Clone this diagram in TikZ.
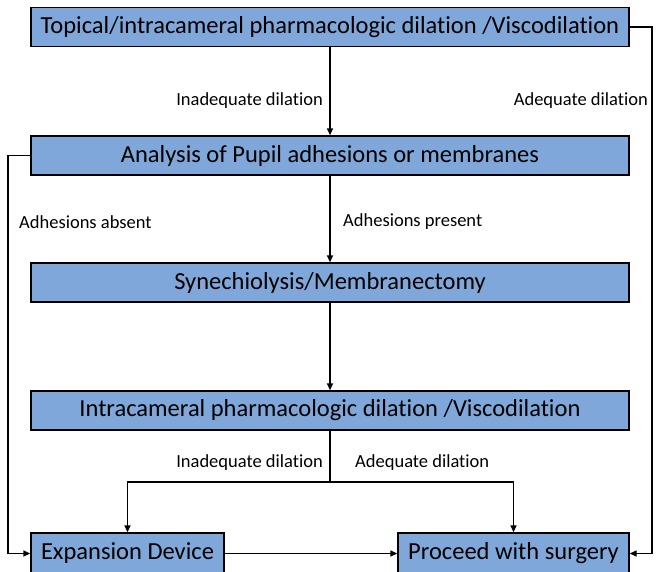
\documentclass[tikz,border=0pt]{standalone}
\usepackage{fontspec}
\setmainfont{Carlito}[Ligatures=NoCommon]
\usetikzlibrary{arrows.meta}
\definecolor{boxblue}{RGB}{128, 167, 217}
\tikzstyle{stepbox} = [
  draw=black,
  line width=1.4pt,
  fill=boxblue,
  inner sep=0pt,
  font=\fontsize{24.5}{28}\selectfont,
]
\tikzstyle{flow} = [
  line width=1.4pt,
  -{Triangle[length=7pt,width=6pt]},
]
\tikzstyle{lbl} = [
  font=\fontsize{18.5}{22}\selectfont,
  inner sep=0pt,
]

\begin{document}
\begin{tikzpicture}[x=1pt, y=-1pt]
            \useasboundingbox (0,0) rectangle (659,571);
            \def\wide{598pt}
            \def\high{39pt}

            % Boxes
            \node[stepbox, minimum width=\wide, minimum height=\high] (topical) at (330,27)
                {Topical/intracameral pharmacologic dilation /Viscodilation};
            \node[stepbox, minimum width=\wide, minimum height=\high] (analysis) at (330,155.5)
                {Analysis of Pupil adhesions or membranes};
            \node[stepbox, minimum width=\wide, minimum height=\high] (synech) at (330,282.5)
                {Synechiolysis/Membranectomy};
            \node[stepbox, minimum width=\wide, minimum height=\high] (intra) at (330,410.5)
                {Intracameral pharmacologic dilation /Viscodilation};
            \node[stepbox, minimum width=193pt, minimum height=41pt] (device) at (127.5,553.5)
                {Expansion Device};
            \node[stepbox, minimum width=231pt, minimum height=41pt] (surgery) at (513.5,553.5)
                {Proceed with surgery};

            % Rails and split
            \coordinate (rightrail) at (652,27);
            \coordinate (leftrail) at (8,155.5);
            \coordinate (split) at (330,482);

            % Arrows
            \draw[flow] (topical) -- (analysis);
            \draw[flow] (analysis) -- (synech);
            \draw[flow] (synech) -- (intra);
            \draw[line width=1.4pt] (intra) -- (split);
            \draw[flow] (split) -| (device.north);
            \draw[flow] (split) -| (surgery.north);
            \draw[flow] (topical.east) -- (rightrail) |- (surgery.east);
            \draw[flow] (analysis.west) -- (leftrail) |- (device.west);
            \draw[flow] (device) -- (surgery);

            % Labels
            \node[lbl, anchor=east] (inadtop) at (323,101) {Inadequate dilation};
            \node[lbl, anchor=east] (adtop) at (648,101) {Adequate dilation};
            \node[lbl, anchor=west] (absent) at (19,222) {Adhesions absent};
            \node[lbl, anchor=west] (present) at (343,222) {Adhesions present};
            \node[lbl, anchor=east] (inadbot) at (323,463) {Inadequate dilation};
            \node[lbl, anchor=west] (adbot) at (355,463) {Adequate dilation};
          \end{tikzpicture}
\end{document}
